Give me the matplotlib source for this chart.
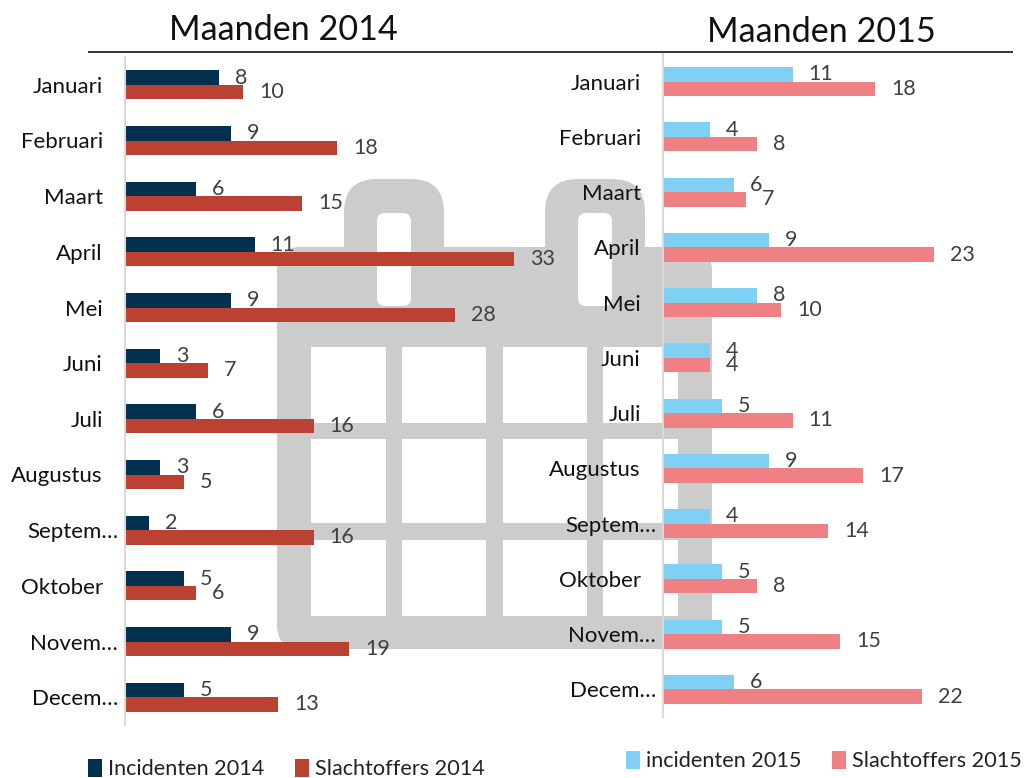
import matplotlib
matplotlib.use("Agg")
import matplotlib.pyplot as plt
from matplotlib.patches import FancyBboxPatch, Rectangle
from matplotlib.ticker import NullLocator

W, H = 1027, 778
plt.rcParams['font.family'] = ['Lato', 'DejaVu Sans']

months_2014 = ["Januari", "Februari", "Maart", "April", "Mei", "Juni", "Juli", "Augustus",
               "Septem…", "Oktober", "Novem…", "Decem…"]
months_2015 = months_2014
incidenten_2014 = [8, 9, 6, 11, 9, 3, 6, 3, 2, 5, 9, 5]
slachtoffers_2014 = [10, 18, 15, 33, 28, 7, 16, 5, 16, 6, 19, 13]
incidenten_2015 = [11, 4, 6, 9, 8, 4, 5, 9, 4, 5, 5, 6]
slachtoffers_2015 = [18, 8, 7, 23, 10, 4, 11, 17, 14, 8, 15, 22]

fig = plt.figure(figsize=(W / 100, H / 100), dpi=100, facecolor='white')


def px_axes(x0, y0, x1, y1, **kw):
    return fig.add_axes([x0 / W, 1 - y1 / H, (x1 - x0) / W, (y1 - y0) / H], **kw)


# Background layer in pixel coordinates: calendar icon, rule, titles
bg = px_axes(0, 0, W, H)
bg.set_xlim(0, W)
bg.set_ylim(H, 0)
bg.axis('off')
GREY = '#CCCCCC'


def rrect(x0, y0, x1, y1, r, color):
    bg.add_patch(FancyBboxPatch((x0 + r, y0 + r), x1 - x0 - 2 * r, y1 - y0 - 2 * r,
                                boxstyle=f"round,pad={r},rounding_size={r}",
                                fc=color, ec='none'))


for rx0, rx1 in [(344, 444), (545, 645)]:
    rrect(rx0, 179, rx1, 290, 33, GREY)
rrect(277, 247, 712, 649, 24, GREY)
for rx0, rx1 in [(377, 411), (578, 612)]:
    rrect(rx0, 213, rx1, 306, 8, 'white')
for cx0, cx1 in [(311, 386), (402, 486), (503, 587), (603, 678)]:
    for cy0, cy1 in [(347, 423), (439, 523), (540, 616)]:
        bg.add_patch(Rectangle((cx0, cy0), cx1 - cx0, cy1 - cy0, fc='white', ec='none'))

bg.plot([88, 1013], [51.5, 51.5], color='#111111', lw=1.2, solid_capstyle='butt')
bg.text(283, 30, "Maanden 2014", fontsize=24.6, ha='center', va='center', color='#111111')
bg.text(821, 32, "Maanden 2015", fontsize=24.6, ha='center', va='center', color='#111111')


def panel(box, cats, inc, sla, c1, c2, n1, n2, leg_anchor):
    ax = px_axes(*box)
    ax.patch.set_alpha(0)
    n = len(cats)
    ys = list(range(n))
    h = 0.262
    b1 = ax.barh([y - h / 2 for y in ys], inc, height=h, color=c1, label=n1)
    b2 = ax.barh([y + h / 2 for y in ys], sla, height=h, color=c2, label=n2)
    ax.set_ylim(n - 0.5, -0.5)
    ax.set_xlim(0, (box[2] - box[0]) / 11.79)
    ax.xaxis.set_major_locator(NullLocator())
    ax.set_yticks(ys, cats)
    ax.tick_params(axis='y', length=0, labelsize=16, labelcolor='#111111')
    for t, lab in zip(ax.yaxis.get_major_ticks(), cats):
        t.set_pad(5 if lab.endswith('…') else 16)
    for s in ['top', 'right', 'bottom']:
        ax.spines[s].set_visible(False)
    ax.spines['left'].set_color('#D9D9D9')
    ax.spines['left'].set_linewidth(1.5)
    for bars, vals in [(b1, inc), (b2, sla)]:
        ax.bar_label(bars, labels=[str(v) for v in vals], padding=11.5, fontsize=15.5, color='#404040')
    fig.legend(handles=[b1, b2], loc='center left', bbox_to_anchor=leg_anchor, ncol=2, frameon=False,
               fontsize=15.6, handlelength=0.65, handleheight=0.9, handletextpad=0.25,
               columnspacing=1.45, labelcolor='#222222', borderpad=0, borderaxespad=0)
    return ax


panel((125, 57, 560, 725), months_2014, incidenten_2014, slachtoffers_2014, '#04304F', '#BB4133',
      "Incidenten 2014", "Slachtoffers 2014", (88 / W, 1 - 769 / H))
panel((663, 54, 1020, 717), months_2015, incidenten_2015, slachtoffers_2015, '#7FD0F3', '#EF8084',
      "incidenten 2015", "Slachtoffers 2015", (626 / W, 1 - 761 / H))

fig.savefig('out.png', dpi=100)
